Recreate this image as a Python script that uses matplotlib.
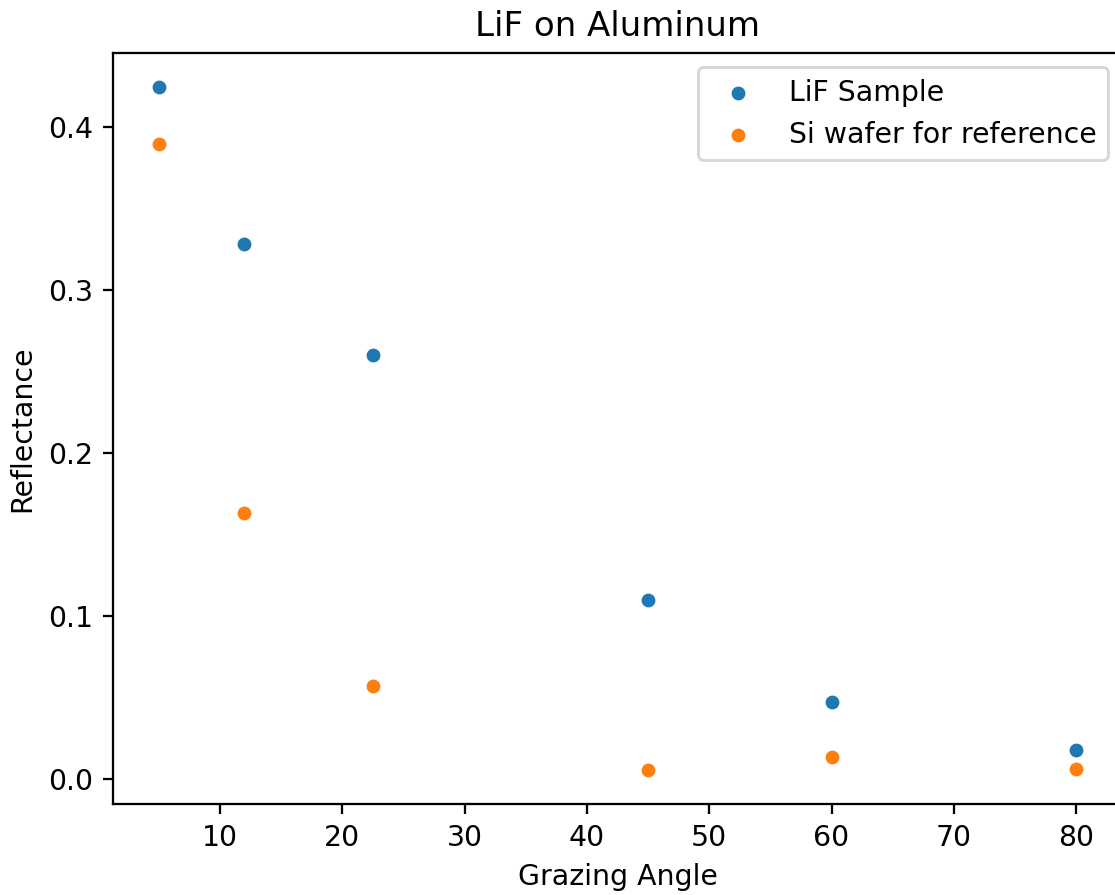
import matplotlib
matplotlib.use("Agg")
import matplotlib.pyplot as plt

angles = [5, 12, 22.5, 45, 60, 80]
lif = [0.4245, 0.3282, 0.2601, 0.1098, 0.0472, 0.0178]
si = [0.3896, 0.1632, 0.0571, 0.0055, 0.0135, 0.0061]

dpi = 204
W, H = 1115, 895
fig = plt.figure(figsize=(W / dpi, H / dpi), dpi=dpi)
ax = fig.add_axes([113 / W, 1 - 804 / H, (1122 - 113) / W, (804 - 53) / H])
ax.scatter(angles, lif, s=15, color="#1f77b4", label="LiF Sample")
ax.scatter(angles, si, s=15, color="#ff7f0e", label="Si wafer for reference")
ax.set_title("LiF on Aluminum")
ax.set_xlabel("Grazing Angle")
ax.set_ylabel("Reflectance")
ax.set_xticks([10, 20, 30, 40, 50, 60, 70, 80])
ax.set_yticks([0.0, 0.1, 0.2, 0.3, 0.4])
ax.legend(loc="upper right")
fig.savefig("out.png", dpi=dpi)
